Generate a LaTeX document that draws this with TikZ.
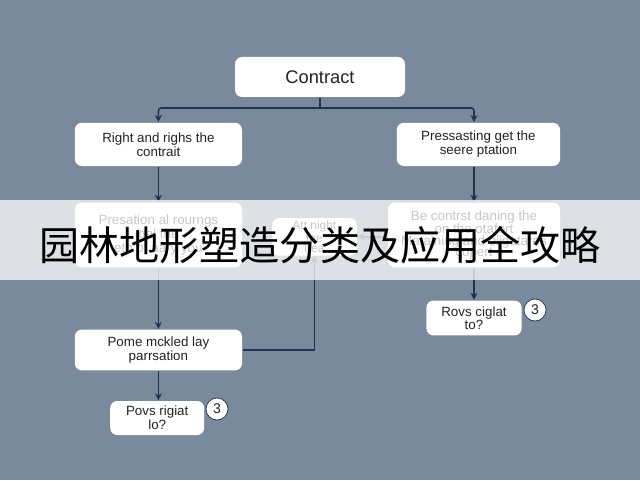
\documentclass[tikz,border=0pt]{standalone}
\usepackage{fontspec}
\setmainfont{Liberation Sans}
\newfontfamily\cjk{Noto Sans CJK SC}
\usetikzlibrary{arrows.meta}

\definecolor{slate}{RGB}{122,138,156}
\definecolor{navy}{RGB}{30,52,80}
\definecolor{ink}{RGB}{34,34,34}

\begin{document}
\begin{tikzpicture}[
    line width=1.1pt,
    >={Stealth[length=5pt,width=5pt]},
    every node/.style={font=\fontsize{9.5}{8.2}\selectfont, text=ink},
    card/.style={draw=none, fill=white, rounded corners=5pt, align=center, inner sep=2pt},
    badge/.style={circle, draw=navy, line width=0.5pt, fill=white, inner sep=0pt, minimum size=0.55cm, font=\fontsize{10}{10}\selectfont},
    link/.style={draw=navy, ->}
]

% Background
\fill[slate] (0,0) rectangle (16,12);
\useasboundingbox (0,0) rectangle (16,12);

% Top node
\node[card, minimum width=4.25cm, minimum height=1cm, font=\fontsize{13}{15}\selectfont] (contract) at (8,10.075) {Contract};

% First level
\node[card, minimum width=4.18cm, minimum height=1.08cm] (rights) at (3.96,8.39) {Right and righs the\\contrait};
\node[card, minimum width=4.08cm, minimum height=1.08cm] (press) at (11.96,8.39) {Pressasting get the\\seere ptation};

% Second level
\node[card, minimum width=4.18cm, minimum height=1.62cm] (presat) at (3.96,6.125) {Presation al rourngs\\gal the\\eth of aary you};
\node[card, minimum width=2.12cm, minimum height=0.85cm, font=\fontsize{8.5}{7.5}\selectfont] (night) at (7.86,6.08) {Att night\\the\\lrea};
\node[card, minimum width=4.3cm, minimum height=1.62cm] (contr) at (11.85,6.125) {Be contrst daning the\\on the otafort\\Mataining and oiigatares\\copert};

% Third level
\node[card, minimum width=4.18cm, minimum height=1.02cm] (pome) at (3.96,3.25) {Pome mckled lay\\parrsation};
\node[card, minimum width=2.38cm, minimum height=0.87cm] (rovs) at (11.85,4.05) {Rovs ciglat\\to?};
\node[badge] (bR) at (13.375,4.25) {3};

% Bottom
\node[card, minimum width=2.35cm, minimum height=0.85cm] (povs) at (3.93,1.55) {Povs rigiat\\lo?};
\node[badge] (bL) at (5.425,1.775) {3};

% Split below the top node
\coordinate (split) at (8,9.3);
\draw[navy] (contract.south) -- (split);
\draw[link, rounded corners=2pt] (split) -| (rights.north);
\draw[link, rounded corners=2pt] (split) -| (contr.north |- press.north);

% Down the columns
\draw[link] (rights.south) -- (presat.north);
\draw[link] (contr.north |- press.south) -- (contr.north);
\draw[link] (presat.south) -- (pome.north);
\draw[link] (contr.south) -- (rovs.north);
\draw[link] (pome.south) -- (pome.south |- povs.north);

% Back to the middle node
\draw[link] (pome.east) -| (night.south);
\draw[link] (contr.west |- night.east) -- (night.east);

% Title band
\fill[white, opacity=0.75] (0,5) rectangle (16,7);
\node[font=\cjk\fontsize{28.5}{30}\selectfont, text=black] (title) at (8,5.875) {园林地形塑造分类及应用全攻略};

\end{tikzpicture}
\end{document}
